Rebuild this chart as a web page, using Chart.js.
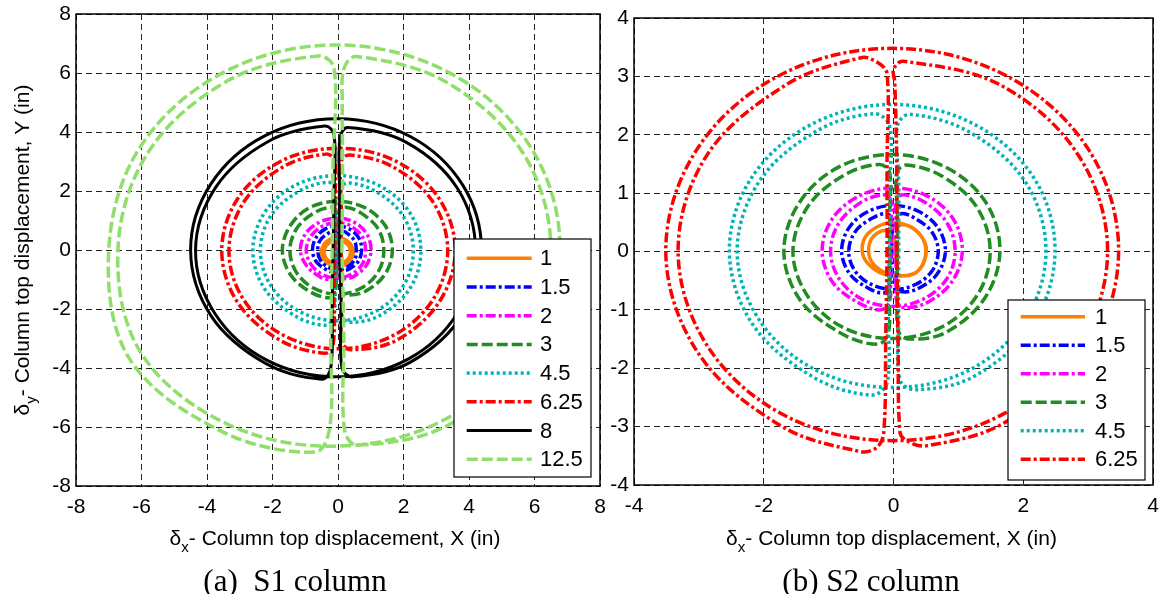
<!DOCTYPE html>
<html>
<head>
<meta charset="utf-8">
<title>Column top displacement orbits</title>
<script src="https://cdn.jsdelivr.net/npm/chart.js@4.4.1/dist/chart.umd.min.js"></script>
<style>
  html, body { margin: 0; padding: 0; background: #fff; }
  #wrap { position: relative; width: 1162px; height: 594px; overflow: hidden; background: #fff; }
  canvas { position: absolute; top: 0; }
  #s1 { left: 0; width: 608px; height: 594px; }
  #s2 { left: 608px; width: 554px; height: 594px; }
</style>
</head>
<body>
<div id="wrap">
  <canvas id="s1" width="608" height="594"></canvas>
  <canvas id="s2" width="554" height="594"></canvas>
</div>
<script>
// ---------------- S1 column orbits (in) ----------------
const s1x_1 = [0.02, 0.0, -0.02, 0.18, 0.33, 0.38, 0.33, 0.18, -0.02, -0.22, -0.37, -0.42, -0.37, -0.22,
  -0.02, 0.22, 0.40, 0.47, 0.40, 0.22, -0.02, -0.26, -0.44, -0.51, -0.44, -0.26, -0.02, 0.02];
const s1y_1 = [0, 0.2, 0.33, 0.28, 0.13, -0.07, -0.27, -0.42, -0.47, -0.42, -0.27, -0.07, 0.13, 0.28,
  0.41, 0.35, 0.17, -0.07, -0.31, -0.49, -0.55, -0.49, -0.31, -0.07, 0.17, 0.35, 0.41, 0.1];

const s1x_15 = [0.06, 0.06, 0.06, 0.16,
  0.31, 0.51, 0.56, 0.52, 0.32, 0, -0.33, -0.55, -0.62, -0.55, -0.32,
  -0.14, -0.04,
  -0.04, -0.04, -0.04, -0.05, -0.16,
  -0.38, -0.67, -0.78, -0.68, -0.41, 0, 0.40, 0.65, 0.72, 0.63, 0.37,
  0.15, 0.06,
  0.06, 0.06];
const s1y_15 = [0, 0.35, 0.58, 0.64,
  0.54, 0.30, 0, -0.30, -0.55, -0.68, -0.57, -0.32, 0, 0.32, 0.55,
  0.63, 0.56,
  0.28, 0, -0.3, -0.6, -0.74,
  -0.65, -0.39, 0, 0.40, 0.70, 0.82, 0.68, 0.38, 0, -0.37, -0.63,
  -0.7, -0.6,
  -0.3, 0];

const s1x_2 = [0.08, 0.08, 0.08, 0.2,
  0.45, 0.75, 0.84, 0.76, 0.46, 0, -0.48, -0.83, -0.97, -0.82, -0.47,
  -0.18, -0.05,
  -0.05, -0.05, -0.05, -0.06, -0.2,
  -0.53, -0.95, -1.15, -0.98, -0.55, 0, 0.53, 0.89, 1.01, 0.87, 0.51,
  0.2, 0.08,
  0.08, 0.08];
const s1y_2 = [0, 0.5, 0.82, 0.9,
  0.77, 0.44, 0, -0.44, -0.79, -0.95, -0.83, -0.48, 0, 0.48, 0.81,
  0.9, 0.8,
  0.4, 0, -0.45, -0.85, -1.0,
  -0.92, -0.55, 0, 0.57, 0.95, 1.08, 0.92, 0.52, 0, -0.51, -0.88,
  -0.97, -0.85,
  -0.45, 0];

const s1x_3 = [0.08, 0.08, 0.08, 0.25,
  0.72, 1.23, 1.40, 1.24, 0.74, 0, -0.75, -1.28, -1.47, -1.26, -0.73,
  -0.22, -0.05,
  -0.05, -0.05, -0.06, -0.08, -0.25,
  -0.83, -1.45, -1.70, -1.45, -0.84, 0, 0.83, 1.44, 1.66, 1.43, 0.82,
  0.25, 0.1,
  0.08, 0.08];
const s1y_3 = [0, 0.7, 1.35, 1.45,
  1.24, 0.71, 0, -0.72, -1.27, -1.50, -1.29, -0.74, 0, 0.73, 1.26,
  1.44, 1.3,
  0.6, 0, -0.7, -1.4, -1.62,
  -1.43, -0.84, 0, 0.84, 1.45, 1.65, 1.43, 0.83, 0, -0.83, -1.41,
  -1.52, -1.38,
  -0.7, 0];

const s1x_45 = [0.1, 0.1, 0.1, 0.3,
  1.15, 1.99, 2.30, 2.02, 1.19, 0, -1.20, -2.06, -2.37, -2.04, -1.16,
  -0.3, -0.08,
  -0.08, -0.08, -0.1, -0.12, -0.35,
  -1.30, -2.25, -2.60, -2.23, -1.28, 0, 1.26, 2.19, 2.53, 2.21, 1.28,
  0.35, 0.12,
  0.1, 0.1];
const s1y_45 = [0, 1.2, 2.1, 2.28,
  1.99, 1.15, 0, -1.17, -2.05, -2.40, -2.07, -1.19, 0, 1.18, 2.01,
  2.3, 2.1,
  1.0, 0, -1.1, -2.2, -2.55,
  -2.24, -1.30, 0, 1.29, 2.21, 2.52, 2.18, 1.27, 0, -1.28, -2.22,
  -2.45, -2.2,
  -1.1, 0];

const s1x_625 = [0.1, 0.1, 0.1, 0.35,
  1.64, 2.88, 3.35, 2.90, 1.68, 0, -1.67, -2.89, -3.33, -2.86, -1.64,
  -0.35, -0.1,
  -0.1, -0.1, -0.12, -0.15, -0.4,
  -1.77, -3.07, -3.55, -3.05, -1.74, 0, 1.75, 3.07, 3.58, 3.08, 1.77,
  0.4, 0.12,
  0.1, 0.1];
const s1y_625 = [0, 1.6, 3.0, 3.22,
  2.84, 1.66, 0, -1.68, -2.90, -3.35, -2.89, -1.67, 0, 1.65, 2.84,
  3.25, 3.0,
  1.5, 0, -1.6, -3.2, -3.5,
  -3.06, -1.77, 0, 1.76, 3.01, 3.45, 3.02, 1.77, 0, -1.78, -3.07,
  -3.38, -3.1,
  -1.5, 0];

const s1x_8 = [0.05, 0.05, 0.06, 0.3,
  2.10, 3.64, 4.20, 3.66, 2.14, 0, -2.16, -3.75, -4.35, -3.72, -2.13,
  -0.4, -0.12,
  -0.12, -0.15, -0.18, -0.22, -0.5,
  -2.22, -3.87, -4.5, -3.88, -2.24, 0, 2.22, 3.81, 4.38, 3.80, 2.20,
  0.45, 0.12,
  0.1, 0.05];
const s1y_8 = [0, 2, 3.8, 4.15,
  3.64, 2.10, 0, -2.12, -3.70, -4.30, -3.74, -2.17, 0, 2.15, 3.68,
  4.2, 3.9,
  2, 0, -2, -4.0, -4.38,
  -3.84, -2.24, 0, 2.24, 3.87, 4.45, 3.84, 2.20, 0, -2.20, -3.81,
  -4.3, -4.0,
  -2, 0];

const s1x_125 = [0.12, 0.14, 0.13, 0.18, 0.55,
  3.29, 5.66, 6.50, 5.67, 3.30, 0, -3.40, -6.02, -6.72, -5.78, -3.33,
  -0.6, -0.12,
  -0.15, -0.18, -0.22, -0.25, -0.7,
  -3.55, -6.37, -7.0, -6.04, -3.48, 0, 3.45, 5.92, 6.78, 5.89, 3.41,
  0.6, 0.2,
  0.18, 0.12];
const s1y_125 = [0, 2.5, 5.0, 6.15, 6.56,
  5.70, 3.27, 0, -3.28, -5.72, -6.65, -5.89, -3.48, 0, 3.34, 5.76,
  6.58, 6.15,
  3, 0, -3, -6.0, -6.85,
  -6.15, -3.68, 0, 3.49, 6.03, 6.95, 5.98, 3.42, 0, -3.40, -5.91,
  -6.62, -6.1,
  -3, 0];

// ---------------- S2 column orbits (in) ----------------
const s2x_1 = [0.05, 0.0, -0.05, 0.15, 0.33, 0.46, 0.5, 0.45, 0.32, 0.1, -0.12, -0.3, -0.45, -0.48, -0.4, -0.2,
  0.0, 0.2, 0.38, 0.5, 0.48, 0.38, 0.2, -0.02, -0.2, -0.35, -0.38, -0.3, -0.12, 0.0, 0.03];
const s2y_1 = [-0.25, 0.1, 0.38, 0.46, 0.38, 0.2, 0, -0.22, -0.38, -0.42, -0.4, -0.3, -0.12, 0.1, 0.3, 0.45,
  0.5, 0.45, 0.32, 0.1, -0.15, -0.33, -0.41, -0.4, -0.32, -0.15, 0.08, 0.27, 0.36, 0.25, 0.0];

const s2x_15 = [0.05, 0.05, 0.05, 0.14,
  0.33, 0.59, 0.69, 0.59, 0.33, 0, -0.33, -0.59, -0.69, -0.59, -0.33,
  -0.12, -0.03,
  -0.03, -0.03, -0.04, -0.05, -0.15,
  -0.37, -0.67, -0.80, -0.69, -0.40, 0, 0.40, 0.69, 0.80, 0.67, 0.37,
  0.13, 0.05,
  0.05, 0.05];
const s2y_15 = [0, 0.35, 0.58, 0.65,
  0.57, 0.34, 0, -0.34, -0.57, -0.65, -0.57, -0.34, 0, 0.34, 0.57,
  0.65, 0.57,
  0.28, 0, -0.3, -0.6, -0.71,
  -0.64, -0.39, 0, 0.40, 0.68, 0.79, 0.68, 0.40, 0, -0.39, -0.64,
  -0.69, -0.6,
  -0.3, 0];

const s2x_2 = [0.04, 0.04, 0.04, 0.15,
  0.49, 0.83, 0.95, 0.82, 0.47, 0, -0.48, -0.83, -0.97, -0.84, -0.49,
  -0.15, -0.04,
  -0.04, -0.04, -0.05, -0.06, -0.2,
  -0.52, -0.93, -1.10, -0.95, -0.55, 0, 0.54, 0.93, 1.06, 0.90, 0.51,
  0.15, 0.05,
  0.04, 0.04];
const s2y_2 = [0, 0.5, 0.88, 0.97,
  0.84, 0.48, 0, -0.47, -0.81, -0.94, -0.82, -0.48, 0, 0.49, 0.85,
  0.97, 0.88,
  0.45, 0, -0.45, -0.85, -1.0,
  -0.89, -0.54, 0, 0.55, 0.94, 1.09, 0.94, 0.54, 0, -0.52, -0.88,
  -0.96, -0.85,
  -0.45, 0];

const s2x_3 = [0.06, 0.06, 0.05, 0.2,
  0.75, 1.29, 1.49, 1.29, 0.75, 0, -0.76, -1.32, -1.55, -1.32, -0.76,
  -0.22, -0.06,
  -0.06, -0.06, -0.07, -0.08, -0.25,
  -0.81, -1.44, -1.69, -1.45, -0.84, 0, 0.83, 1.43, 1.64, 1.40, 0.80,
  0.25, 0.08,
  0.06, 0.06];
const s2y_3 = [0, 0.7, 1.35, 1.48,
  1.29, 0.75, 0, -0.75, -1.29, -1.49, -1.31, -0.77, 0, 0.77, 1.31,
  1.49, 1.35,
  0.65, 0, -0.7, -1.4, -1.59,
  -1.40, -0.83, 0, 0.84, 1.45, 1.66, 1.43, 0.83, 0, -0.81, -1.39,
  -1.5, -1.38,
  -0.7, 0];

const s2x_45 = [0.08, 0.08, 0.06, 0.25,
  1.18, 2.04, 2.35, 2.03, 1.17, 0, -1.18, -2.06, -2.41, -2.07, -1.19,
  -0.3, -0.06,
  -0.06, -0.06, -0.08, -0.1, -0.35,
  -1.24, -2.17, -2.53, -2.19, -1.26, 0, 1.26, 2.17, 2.49, 2.15, 1.24,
  0.35, 0.1,
  0.08, 0.08];
const s2y_45 = [0, 1.2, 2.15, 2.35,
  2.04, 1.18, 0, -1.17, -2.03, -2.33, -2.04, -1.19, 0, 1.20, 2.06,
  2.36, 2.15,
  1.1, 0, -1.1, -2.25, -2.46,
  -2.15, -1.25, 0, 1.26, 2.18, 2.52, 2.17, 1.25, 0, -1.24, -2.14,
  -2.37, -2.2,
  -1.1, 0];

const s2x_625 = [0.05, 0.05, 0.02, 0.0, 0.15,
  1.65, 2.85, 3.30, 2.84, 1.63, 0, -1.64, -2.85, -3.32, -2.87, -1.65,
  -0.5, -0.25, -0.1,
  -0.1, -0.1, -0.12, -0.15, -0.25, -0.5,
  -1.73, -3.01, -3.51, -3.03, -1.75, 0, 1.74, 3.01, 3.47, 2.99, 1.70,
  0.5, 0.2, 0.1,
  0.07, 0.05];
const s2y_625 = [0, 1.5, 2.9, 3.12, 3.26,
  2.85, 1.65, 0, -1.64, -2.82, -3.24, -2.83, -1.65, 0, 1.66, 2.86,
  3.32, 3.24, 3.05,
  1.5, 0, -1.5, -3.1, -3.35, -3.43,
  -2.99, -1.74, 0, 1.75, 3.02, 3.48, 3.01, 1.74, 0, -1.73, -2.94,
  -3.33, -3.24, -3.1,
  -1.5, 0];

// legend labels (amplitude levels) and tick values
const s1Labels = ['1', '1.5', '2', '3', '4.5', '6.25', '8', '12.5'];
const s2Labels = ['1', '1.5', '2', '3', '4.5', '6.25'];
const s1X = [s1x_1, s1x_15, s1x_2, s1x_3, s1x_45, s1x_625, s1x_8, s1x_125];
const s1Y = [s1y_1, s1y_15, s1y_2, s1y_3, s1y_45, s1y_625, s1y_8, s1y_125];
const s2X = [s2x_1, s2x_15, s2x_2, s2x_3, s2x_45, s2x_625];
const s2Y = [s2y_1, s2y_15, s2y_2, s2y_3, s2y_45, s2y_625];
const s1Ticks = [-8, -6, -4, -2, 0, 2, 4, 6, 8];
const s2Ticks = [-4, -3, -2, -1, 0, 1, 2, 3, 4];
const s2XTicks = [-4, -2, 0, 2, 4];

// line look for each level
const styles = {
  '1':    { color: '#ff8000', dash: [], width: 3.5 },
  '1.5':  { color: '#0000ff', dash: [10, 3, 3, 3], width: 3.5 },
  '2':    { color: '#ff00ff', dash: [10, 3, 3, 3], width: 3.5 },
  '3':    { color: '#228b22', dash: [11, 4], width: 3.5 },
  '4.5':  { color: '#00b4b4', dash: [3, 3], width: 3.5 },
  '6.25': { color: '#ff0000', dash: [10, 3, 3, 3], width: 3.5 },
  '8':    { color: '#000000', dash: [], width: 3 },
  '12.5': { color: '#8fdf6a', dash: [11, 4], width: 3.5 }
};

const SANS = "'Liberation Sans', Arial, sans-serif";
const SERIF = "'Liberation Serif', 'Times New Roman', serif";
Chart.defaults.font.family = SANS;
Chart.defaults.color = '#000';

function makeSets(labels, xs, ys) {
  return labels.map((lab, i) => {
    const st = styles[lab];
    return {
      label: lab,
      data: xs[i].map((x, k) => ({ x: x, y: ys[i][k] })),
      showLine: true,
      borderColor: st.color,
      backgroundColor: st.color,
      borderWidth: st.width,
      borderDash: st.dash,
      borderCapStyle: 'butt',
      borderJoinStyle: 'round',
      pointRadius: 0,
      pointHoverRadius: 0,
      tension: 0.35,
      fill: false,
      order: labels.length - i   // later levels drawn on top
    };
  });
}

// text with a subscript part, centred on the origin, baseline at y = 0
function drawRich(ctx, parts, size) {
  let w = 0;
  parts.forEach(p => {
    ctx.font = (p.sub ? size * 0.72 : size) + 'px ' + SANS;
    w += ctx.measureText(p.t).width;
  });
  let x = -w / 2;
  parts.forEach(p => {
    ctx.font = (p.sub ? size * 0.72 : size) + 'px ' + SANS;
    ctx.fillText(p.t, x, p.sub ? size * 0.32 : 0);
    x += ctx.measureText(p.t).width;
  });
}

// framed legend inside the plot area, lower right
const boxLegend = {
  id: 'boxLegend',
  afterDatasetsDraw(chart, args, o) {
    const { ctx, chartArea: a } = chart;
    const left = a.right - o.insetRight - o.width;
    const top = a.bottom - o.insetBottom - o.height;
    ctx.save();
    ctx.fillStyle = '#fff';
    ctx.fillRect(left, top, o.width, o.height);
    ctx.strokeStyle = '#000';
    ctx.lineWidth = 1.2;
    ctx.setLineDash([]);
    ctx.strokeRect(left, top, o.width, o.height);
    chart.data.datasets.forEach((ds, i) => {
      const y = top + o.padTop + i * o.row;
      ctx.beginPath();
      ctx.strokeStyle = ds.borderColor;
      ctx.lineWidth = ds.borderWidth;
      ctx.lineCap = 'butt';
      ctx.setLineDash(ds.borderDash);
      ctx.moveTo(left + o.lineFrom, y);
      ctx.lineTo(left + o.lineTo, y);
      ctx.stroke();
      ctx.setLineDash([]);
      ctx.fillStyle = '#000';
      ctx.font = o.fontSize + 'px ' + SANS;
      ctx.textAlign = 'left';
      ctx.textBaseline = 'middle';
      ctx.fillText(ds.label, left + o.textAt, y + 1);
    });
    ctx.restore();
  }
};

// axes frame, axis titles and panel caption
const panelDecor = {
  id: 'panelDecor',
  afterDraw(chart, args, o) {
    const { ctx, chartArea: a } = chart;
    ctx.save();
    ctx.strokeStyle = '#000';
    ctx.lineWidth = 1.5;
    ctx.setLineDash([]);
    ctx.strokeRect(a.left, a.top, a.right - a.left, a.bottom - a.top);

    ctx.fillStyle = '#000';
    ctx.textAlign = 'left';
    ctx.textBaseline = 'alphabetic';
    ctx.save();
    ctx.translate((a.left + a.right) / 2 + o.xTitleDx, o.xTitleY);
    drawRich(ctx, o.xTitle, o.fontSize);
    ctx.restore();

    if (o.yTitle) {
      ctx.save();
      ctx.translate(o.yTitleX, (a.top + a.bottom) / 2);
      ctx.rotate(-Math.PI / 2);
      drawRich(ctx, o.yTitle, o.fontSize);
      ctx.restore();
    }

    ctx.font = o.captionSize + 'px ' + SERIF;
    ctx.textAlign = 'center';
    ctx.fillText(o.caption, o.captionX, o.captionY);
    ctx.restore();
  }
};

function axis(ticks, width, height, fontSize) {
  return {
    type: 'linear',
    min: ticks[0],
    max: ticks[ticks.length - 1],
    afterBuildTicks: s => { s.ticks = ticks.map(v => ({ value: v })); },
    afterFit: s => {
      if (width != null) { s.width = width; s.paddingTop = 0; s.paddingBottom = 0; }
      if (height != null) { s.height = height; s.paddingLeft = 0; s.paddingRight = 0; }
    },
    ticks: { color: '#000', font: { size: fontSize }, padding: height != null ? 9 : 5, maxRotation: 0, autoSkip: false },
    grid: { color: '#222', lineWidth: 1, drawTicks: false },
    border: { display: false, dash: [6, 4] }
  };
}

function makeChart(id, sets, xTicks, yTicks, pad, yWidth, xHeight, decor, legend) {
  return new Chart(document.getElementById(id), {
    type: 'scatter',
    data: { datasets: sets },
    options: {
      responsive: false,
      animation: false,
      events: [],
      devicePixelRatio: 1,
      layout: { padding: pad },
      scales: {
        x: axis(xTicks, null, xHeight, 21),
        y: axis(yTicks, yWidth, null, 21)
      },
      plugins: {
        legend: { display: false },
        tooltip: { enabled: false },
        panelDecor: decor,
        boxLegend: legend
      }
    },
    plugins: [boxLegend, panelDecor]
  });
}

const xTitle = [{ t: 'δ' }, { t: 'x', sub: true }, { t: '- Column top displacement, X (in)' }];
const yTitle = [{ t: 'δ' }, { t: 'y', sub: true }, { t: '- Column top displacement, Y (in)' }];

makeChart('s1', makeSets(s1Labels, s1X, s1Y), s1Ticks, s1Ticks,
  { left: 0, top: 14, right: 8, bottom: 0 }, 76, 108,
  { xTitle: xTitle, xTitleDx: -3, xTitleY: 545, yTitle: yTitle, yTitleX: 29, fontSize: 21,
    caption: '(a)  S1 column', captionX: 295, captionY: 591, captionSize: 31 },
  { insetRight: 9, insetBottom: 9, width: 137, height: 238, padTop: 19.3, row: 28.7,
    lineFrom: 12.7, lineTo: 77.7, textAt: 86, fontSize: 22 });

makeChart('s2', makeSets(s2Labels, s2X, s2Y), s2XTicks, s2Ticks,
  { left: 0, top: 18, right: 9, bottom: 0 }, 26, 109,
  { xTitle: xTitle, xTitleDx: -2, xTitleY: 545, yTitle: null, fontSize: 21,
    caption: '(b) S2 column', captionX: 263, captionY: 591, captionSize: 31 },
  { insetRight: 8, insetBottom: 5, width: 137, height: 180, padTop: 16.7, row: 28.5,
    lineFrom: 12.7, lineTo: 77, textAt: 87, fontSize: 22 });
</script>
</body>
</html>
